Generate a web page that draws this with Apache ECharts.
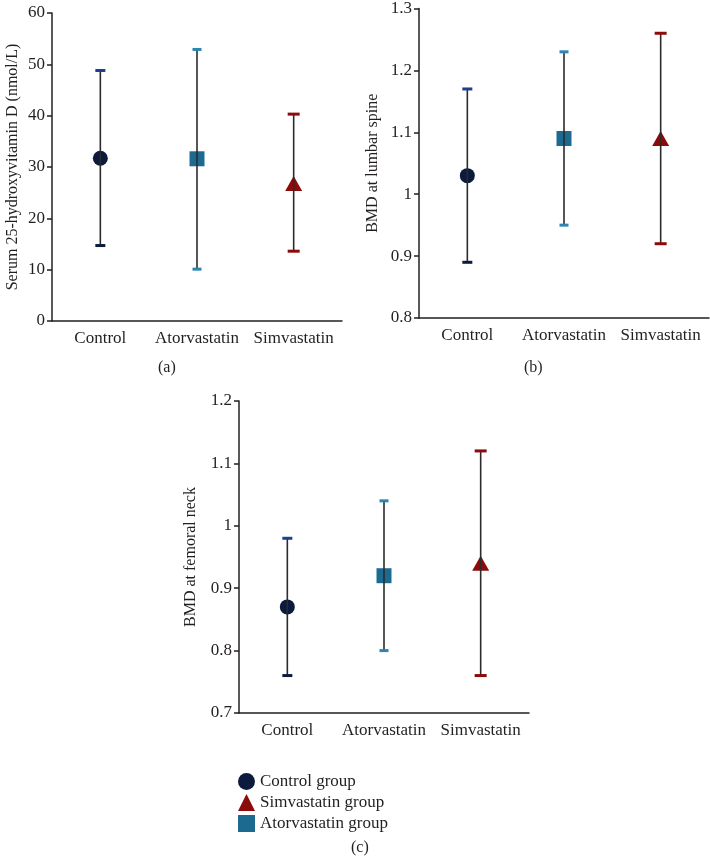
<!DOCTYPE html>
<html>
<head>
<meta charset="utf-8">
<script src="https://cdn.jsdelivr.net/npm/echarts@6/dist/echarts.min.js"></script>
<style>
html,body{margin:0;padding:0;background:#fff;}
#chart{width:710px;height:858px;}
</style>
</head>
<body>
<div id="chart"></div>
<script>
// ---- data ----
const categories = ['Control', 'Atorvastatin', 'Simvastatin'];
const groupNames = ['Control group', 'Atorvastatin group', 'Simvastatin group'];
const legendOrder = ['Control group', 'Simvastatin group', 'Atorvastatin group'];

const serumMean = [31.7, 31.6, 26.8];
const serumLow  = [14.7, 10.1, 13.6];
const serumHigh = [48.8, 52.9, 40.3];

const lumbarMean = [1.03, 1.09, 1.09];
const lumbarLow  = [0.89, 0.95, 0.92];
const lumbarHigh = [1.17, 1.23, 1.26];

const femoralMean = [0.87, 0.92, 0.94];
const femoralLow  = [0.76, 0.80, 0.76];
const femoralHigh = [0.98, 1.04, 1.12];

const axisTitles = ['Serum 25-hydroxyvitamin D (nmol/L)', 'BMD at lumbar spine', 'BMD at femoral neck'];
const yRanges = [[0, 60, 10], [0.8, 1.3, 0.1], [0.7, 1.2, 0.1]];
const captions = ['(a)', '(b)', '(c)'];

// ---- styles ----
const FONT = 'Liberation Serif';
const TXT = '#231f20';
const markerColor = ['#0c1a3d', '#1d6a90', '#8c0a0a'];
const markerSymbol = ['circle', 'rect', 'triangle'];
const markerSize = [15, 15, [17, 15]];
const capTopColor = ['#1f3f8c', '#2c86b0', '#8c0a0a'];
const capBotColor = ['#0c1a3d', '#2c86b0', '#8c0a0a'];
const capWidth = [10, 9, 12];

const grids = [
  {left: 52, top: 13, width: 290, height: 308},
  {left: 419, top: 6, width: 290, height: 312},
  {left: 239, top: 401, width: 290, height: 312}
];
const nameGaps = [31, 38, 40];

const panels = [
  [serumMean, serumLow, serumHigh],
  [lumbarMean, lumbarLow, lumbarHigh],
  [femoralMean, femoralLow, femoralHigh]
];

function renderErr(params, api) {
  const x = api.value(0);
  const lo = api.coord([x, api.value(1)]);
  const hi = api.coord([x, api.value(2)]);
  const i = params.dataIndex;
  const w = capWidth[i] / 2;
  return {
    type: 'group',
    children: [
      {type: 'line', shape: {x1: lo[0], y1: lo[1], x2: hi[0], y2: hi[1]}, style: {stroke: '#2b2b2b', lineWidth: 1.6}},
      {type: 'line', shape: {x1: hi[0] - w, y1: hi[1], x2: hi[0] + w, y2: hi[1]}, style: {stroke: capTopColor[i], lineWidth: 3}},
      {type: 'line', shape: {x1: lo[0] - w, y1: lo[1], x2: lo[0] + w, y2: lo[1]}, style: {stroke: capBotColor[i], lineWidth: 3}}
    ]
  };
}

const xAxes = [], yAxes = [], series = [];
panels.forEach((p, k) => {
  xAxes.push({
    type: 'category', gridIndex: k, data: categories, boundaryGap: true,
    axisLine: {lineStyle: {color: TXT, width: 1.5}},
    axisTick: {alignWithLabel: true, length: 5, lineStyle: {color: TXT, width: 1.5}},
    axisLabel: {interval: 0, color: TXT, fontFamily: FONT, fontSize: 17, margin: 9}
  });
  yAxes.push({
    type: 'value', gridIndex: k, min: yRanges[k][0], max: yRanges[k][1], interval: yRanges[k][2],
    name: axisTitles[k], nameLocation: 'middle', nameGap: nameGaps[k],
    nameTextStyle: {color: TXT, fontFamily: FONT, fontSize: 16},
    axisLine: {show: true, lineStyle: {color: TXT, width: 1.5}},
    axisTick: {show: true, length: 5, lineStyle: {color: TXT, width: 1.5}},
    splitLine: {show: false},
    axisLabel: {color: TXT, fontFamily: FONT, fontSize: 17, margin: 7,
      formatter: v => String(Math.round(v * 100) / 100)}
  });
  const [mean, low, high] = p;
  categories.forEach((c, i) => {
    series.push({
      type: 'scatter', name: groupNames[i], xAxisIndex: k, yAxisIndex: k,
      symbol: markerSymbol[i], symbolSize: markerSize[i],
      itemStyle: {color: markerColor[i], opacity: 1},
      data: [[i, mean[i]]], z: 2, silent: true
    });
  });
  series.push({
    type: 'custom', xAxisIndex: k, yAxisIndex: k, renderItem: renderErr, z: 3, silent: true,
    data: categories.map((c, i) => [i, low[i], high[i]])
  });
});

const chart = echarts.init(document.getElementById('chart'), null, {renderer: 'canvas'});
chart.setOption({
  animation: false,
  backgroundColor: '#fff',
  grid: grids,
  xAxis: xAxes,
  yAxis: yAxes,
  series: series,
  legend: {
    orient: 'vertical', left: 233, top: 768, itemWidth: 17, itemHeight: 17, itemGap: 4,
    selectedMode: false,
    textStyle: {color: TXT, fontFamily: FONT, fontSize: 17},
    data: legendOrder.map(n => ({name: n, icon: markerSymbol[groupNames.indexOf(n)] }))
  },
  graphic: [
    {type: 'text', left: 158, top: 360, style: {text: captions[0], font: '16px ' + FONT, fill: TXT}},
    {type: 'text', left: 524, top: 360, style: {text: captions[1], font: '16px ' + FONT, fill: TXT}},
    {type: 'text', left: 351, top: 840, style: {text: captions[2], font: '16px ' + FONT, fill: TXT}}
  ]
});
</script>
</body>
</html>
